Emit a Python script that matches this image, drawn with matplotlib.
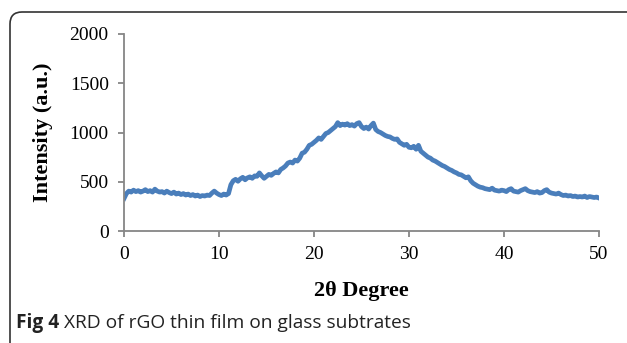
import numpy as np
import matplotlib.pyplot as plt
from matplotlib.patches import FancyBboxPatch

# 2-theta grid (degrees) and intensity
two_theta = np.arange(0, 50.01, 0.25)
intensity = [
    330, 380, 405, 395, 415, 400, 410, 395, 405, 420,
    400, 410, 395, 425, 405, 395, 400, 385, 405, 390,
    380, 395, 375, 385, 370, 380, 365, 375, 360, 370,
    355, 365, 350, 360, 355, 365, 360, 385, 405, 385,
    370, 360, 375, 365, 380, 470, 510, 525, 505, 530,
    545, 520, 540, 550, 535, 560, 555, 590, 560, 535,
    555, 575, 565, 585, 600, 590, 625, 640, 660, 690,
    700, 690, 720, 710, 740, 790, 800, 830, 870, 880,
    900, 920, 945, 930, 960, 990, 1000, 1020, 1040, 1060,
    1100, 1070, 1085, 1075, 1090, 1070, 1080, 1065, 1090, 1100,
    1060, 1040, 1055, 1035, 1070, 1095, 1030, 1010, 1000, 985,
    970, 960, 955, 940, 930, 935, 900, 885, 870, 880,
    850, 845, 860, 830, 870, 810, 790, 770, 750, 740,
    720, 710, 695, 680, 665, 655, 640, 625, 615, 600,
    590, 575, 570, 555, 540, 550, 510, 485, 470, 455,
    445, 440, 430, 425, 420, 435, 415, 410, 405, 415,
    410, 400, 420, 430, 405, 400, 395, 410, 420, 430,
    410, 400, 395, 390, 400, 385, 390, 410, 420, 395,
    385, 380, 375, 385, 370, 360, 365, 355, 360, 350,
    355, 345, 350, 345, 355, 340, 350, 345, 340, 345,
    335,
]

x_ticks = [0, 10, 20, 30, 40, 50]
y_ticks = [0, 500, 1000, 1500, 2000]

serif = "Liberation Serif"
axis_grey = "#868686"

fig = plt.figure(figsize=(6.27, 3.43), dpi=100)
ax = fig.add_axes([0.1978, 0.3265, 0.7575, 0.5744])

ax.plot(two_theta, intensity, color="#4A7EBB", lw=3.4, solid_joinstyle="round")

ax.set_xlim(0, 50)
ax.set_ylim(0, 2000)
ax.set_xticks(x_ticks)
ax.set_yticks(y_ticks)

for side in ["top", "right"]:
    ax.spines[side].set_visible(False)
for side in ["left", "bottom"]:
    ax.spines[side].set_color(axis_grey)
    ax.spines[side].set_linewidth(1.3)

ax.tick_params(direction="out", length=4, width=1.3, color=axis_grey,
               labelsize=14, pad=7)
for lab in ax.get_xticklabels() + ax.get_yticklabels():
    lab.set_fontfamily(serif)

ax.set_xlabel("2θ Degree", fontsize=16, fontweight="bold", family=serif, labelpad=13)
ax.set_ylabel("Intensity (a.u.)", fontsize=16, fontweight="bold", family=serif, labelpad=12)

# caption: bold "Fig 4" followed by the plain text
cap_bold = fig.text(0.0255, 0.058, "Fig 4", fontsize=13.8, fontweight="bold",
                    family="Open Sans", color="#222222", va="center")
fig.canvas.draw()
bb = cap_bold.get_window_extent(fig.canvas.get_renderer())
x_next = (bb.x1 + 5) / fig.bbox.width
fig.text(x_next, 0.058, "XRD of rGO thin film on glass subtrates", fontsize=13.8,
         family="Open Sans", color="#222222", va="center")

# rounded frame open at right and bottom
frame = FancyBboxPatch((0.10, -0.3), 6.6, 3.61,
                       boxstyle="round,pad=0,rounding_size=0.12",
                       transform=fig.dpi_scale_trans, fill=False,
                       edgecolor="#333333", lw=1.2, clip_on=False)
fig.patches.append(frame)

fig.savefig("out.png", dpi=100)
